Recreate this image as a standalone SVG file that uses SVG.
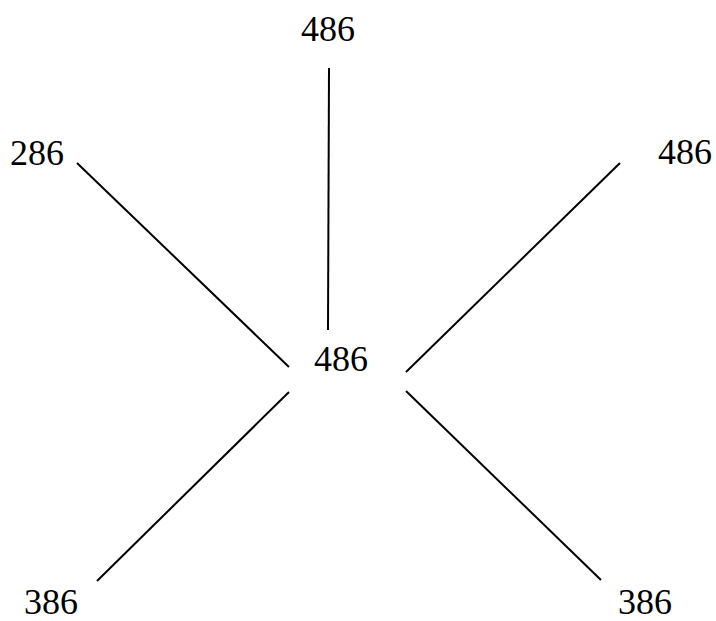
<svg xmlns="http://www.w3.org/2000/svg" width="716" height="621" viewBox="0 0 716 621">
<style>
text{font-family:"Liberation Serif","Times New Roman",serif;font-size:36px;fill:#000;text-anchor:middle}
.e line{stroke:#000;stroke-width:2;fill:none}
</style>
<rect width="716" height="621" fill="#fff"/>
<g class="e" id="connectors">
<line x1="329" y1="68" x2="328" y2="330"/>
<line x1="77" y1="163" x2="289" y2="367"/>
<line x1="620" y1="163" x2="406" y2="372"/>
<line x1="289" y1="392" x2="97" y2="581"/>
<line x1="406" y1="391" x2="601" y2="580"/>
</g>
<g id="center"><text x="341" y="371">486</text></g>
<g id="top"><text x="328" y="41">486</text></g>
<g id="upleft"><text x="37" y="165">286</text></g>
<g id="upright"><text x="685" y="164">486</text></g>
<g id="downleft"><text x="51" y="614">386</text></g>
<g id="downright"><text x="645" y="614">386</text></g>
</svg>
